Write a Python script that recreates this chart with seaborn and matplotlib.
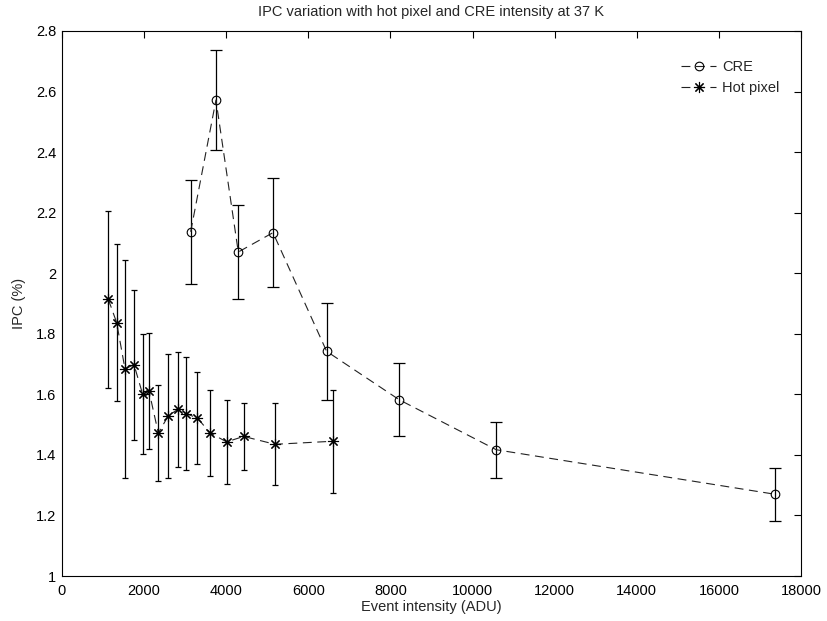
import matplotlib
matplotlib.use("Agg")
import matplotlib.pyplot as plt
import seaborn as sns
import pandas as pd

# Cosmic-ray event (CRE) measurements
cre_intensity = [3134, 3750, 4294, 5139, 6446, 8215, 10577, 17365]
cre_ipc = [2.137, 2.572, 2.070, 2.134, 1.742, 1.582, 1.417, 1.270]
cre_err = [0.171, 0.166, 0.155, 0.179, 0.160, 0.121, 0.092, 0.087]

# Hot pixel measurements
hot_intensity = [1128, 1331, 1534, 1754, 1965, 2119, 2346, 2589,
                 2817, 3028, 3296, 3612, 4011, 4425, 5188, 6592]
hot_ipc = [1.914, 1.837, 1.684, 1.698, 1.600, 1.611, 1.472, 1.529,
           1.550, 1.536, 1.522, 1.472, 1.443, 1.461, 1.435, 1.445]
hot_err = [0.293, 0.260, 0.359, 0.248, 0.198, 0.190, 0.159, 0.204,
           0.190, 0.187, 0.152, 0.143, 0.138, 0.112, 0.135, 0.170]

x_ticks = [0, 2000, 4000, 6000, 8000, 10000, 12000, 14000, 16000, 18000]
y_ticks = [1, 1.2, 1.4, 1.6, 1.8, 2, 2.2, 2.4, 2.6, 2.8]
y_tick_labels = ["1", "1.2", "1.4", "1.6", "1.8", "2", "2.2", "2.4", "2.6", "2.8"]

FS = 10.5

sns.set_style("white")
plt.rcParams["font.family"] = ["Liberation Sans", "DejaVu Sans"]
plt.rcParams["font.size"] = FS

cre_df = pd.DataFrame({"intensity": cre_intensity, "ipc": cre_ipc})
hot_df = pd.DataFrame({"intensity": hot_intensity, "ipc": hot_ipc})

fig = plt.figure(figsize=(8.27, 6.21), dpi=100)
ax = fig.add_axes([62 / 827, 1 - 576 / 621, 739 / 827, 545 / 621])

star = (8, 2, 0)

# error bars
ax.errorbar(cre_intensity, cre_ipc, yerr=cre_err, fmt="none", ecolor="black",
            elinewidth=0.9, capsize=4.6, capthick=0.9, zorder=2)
ax.errorbar(hot_intensity, hot_ipc, yerr=hot_err, fmt="none", ecolor="black",
            elinewidth=0.9, capsize=2.0, capthick=0.9, zorder=2)

# dashed connecting lines with markers
sns.lineplot(data=cre_df, x="intensity", y="ipc", ax=ax, color="#222222",
             linewidth=0.8, dashes=False, linestyle=(0, (8, 5)),
             marker="o", markersize=6.2, markerfacecolor="none",
             markeredgecolor="black", markeredgewidth=0.8, label="CRE", zorder=3)
sns.lineplot(data=hot_df, x="intensity", y="ipc", ax=ax, color="#222222",
             linewidth=0.8, dashes=False, linestyle=(0, (8, 5)),
             marker=star, markersize=8, markeredgecolor="black",
             markeredgewidth=0.8, label="Hot pixel", zorder=3)

ax.set_xlim(0, 18000)
ax.set_ylim(1, 2.8)
ax.set_xticks(x_ticks)
ax.set_xticklabels([str(t) for t in x_ticks])
ax.set_yticks(y_ticks)
ax.set_yticklabels(y_tick_labels)

ax.tick_params(direction="in", top=True, right=True, length=5, width=0.8,
               colors="black", labelsize=FS)
ax.tick_params(axis="x", pad=6)
ax.tick_params(axis="y", pad=4)
for side in ax.spines.values():
    side.set_visible(True)
    side.set_color("black")
    side.set_linewidth(0.8)

ax.set_xlabel("Event intensity (ADU)", fontsize=FS, labelpad=1.5)
ax.set_ylabel("IPC (%)", fontsize=FS, labelpad=7.5)
ax.set_title("IPC variation with hot pixel and CRE intensity at 37 K",
             fontsize=FS, pad=11)

ax.legend(loc="upper left", bbox_to_anchor=(0.838, 0.946), frameon=False,
          borderaxespad=0, borderpad=0, handlelength=2.4, handletextpad=0.4,
          labelspacing=0.45, fontsize=FS)

fig.savefig("out.png", dpi=100)
